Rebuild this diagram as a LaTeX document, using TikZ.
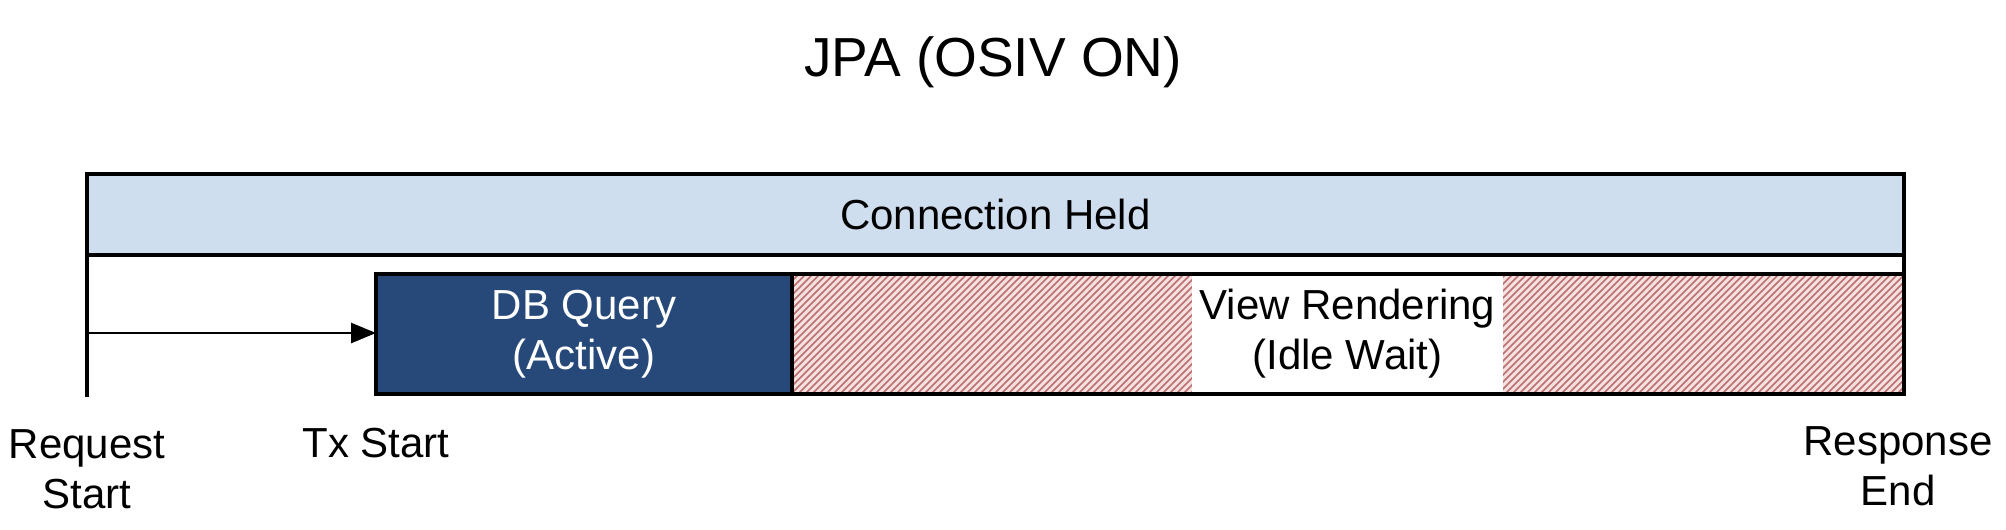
\documentclass[tikz,border=0pt]{standalone}
\usepackage{fontspec}
\setmainfont{Liberation Sans}
\usetikzlibrary{arrows.meta}
\definecolor{heldblue}{RGB}{207,222,238}
\definecolor{dbblue}{RGB}{38,73,121}
\definecolor{hatchbg}{RGB}{245,224,224}
\definecolor{hatchline}{RGB}{186,112,112}
\begin{document}
\begin{tikzpicture}[x=1pt,y=-1pt,
  lbl/.style={font=\fontsize{42}{50}\selectfont, inner sep=0pt, align=center},
  barbox/.style={line width=3.5pt, inner sep=0pt, outer sep=0pt, anchor=north west},
  edge/.style={line width=3.5pt, line cap=rect}]
\useasboundingbox (0,0) rectangle (2006,530);
\fill[white] (0,0) rectangle (2006,530);

\node[font=\fontsize{55}{66}\selectfont, inner sep=0pt, anchor=base] (title) at (993,76) {JPA (OSIV ON)};

% time markers
\coordinate (rsTop) at (87,174);
\coordinate (rsBot) at (87,395);
\coordinate (reTop) at (1904,174);
\coordinate (reBot) at (1904,394);
\coordinate (arrStart) at (87,333);

% connection held bar
\node[barbox, draw=black, fill=heldblue, minimum width=1817pt, minimum height=81pt, lbl] (held) at (87,174) {Connection Held};

% DB query
\node[barbox, draw=black, fill=dbblue, text=white, minimum width=416pt, minimum height=120pt, lbl] (dbq) at (376,274) {DB Query\\(Active)};

% idle wait (hatched)
\node[barbox, fill=hatchbg, minimum width=1112pt, minimum height=120pt] (idle) at (792,274) {};
\begin{scope}
  \clip (idle.south west) rectangle (idle.north east);
  \foreach \i in {0,...,178} {
    \draw[hatchline, line width=1.6pt] ({672+\i*7},394) -- ++(120,-120);
  }
\end{scope}
\node[barbox, fill=white, minimum width=311pt, minimum height=120pt, lbl] (idlelabel) at (1192,274) {View Rendering\\(Idle Wait)};
\draw[line width=3.5pt] (idle.south west) rectangle (idle.north east);

\draw[edge] (rsTop) -- (rsBot);
\draw[edge] (reTop) -- (reBot);

\draw[line width=2.7pt, -{Triangle[length=25pt, width=20pt]}] (arrStart) -- (dbq.west |- arrStart);

% labels
\node[lbl, anchor=base] (reqstart) at (87,508) {Request\\Start};
\node[lbl, anchor=base] (txstart) at (376,457) {Tx Start};
\node[lbl, anchor=base] (respend) at (1898,505) {Response\\End};
\end{tikzpicture}
\end{document}
